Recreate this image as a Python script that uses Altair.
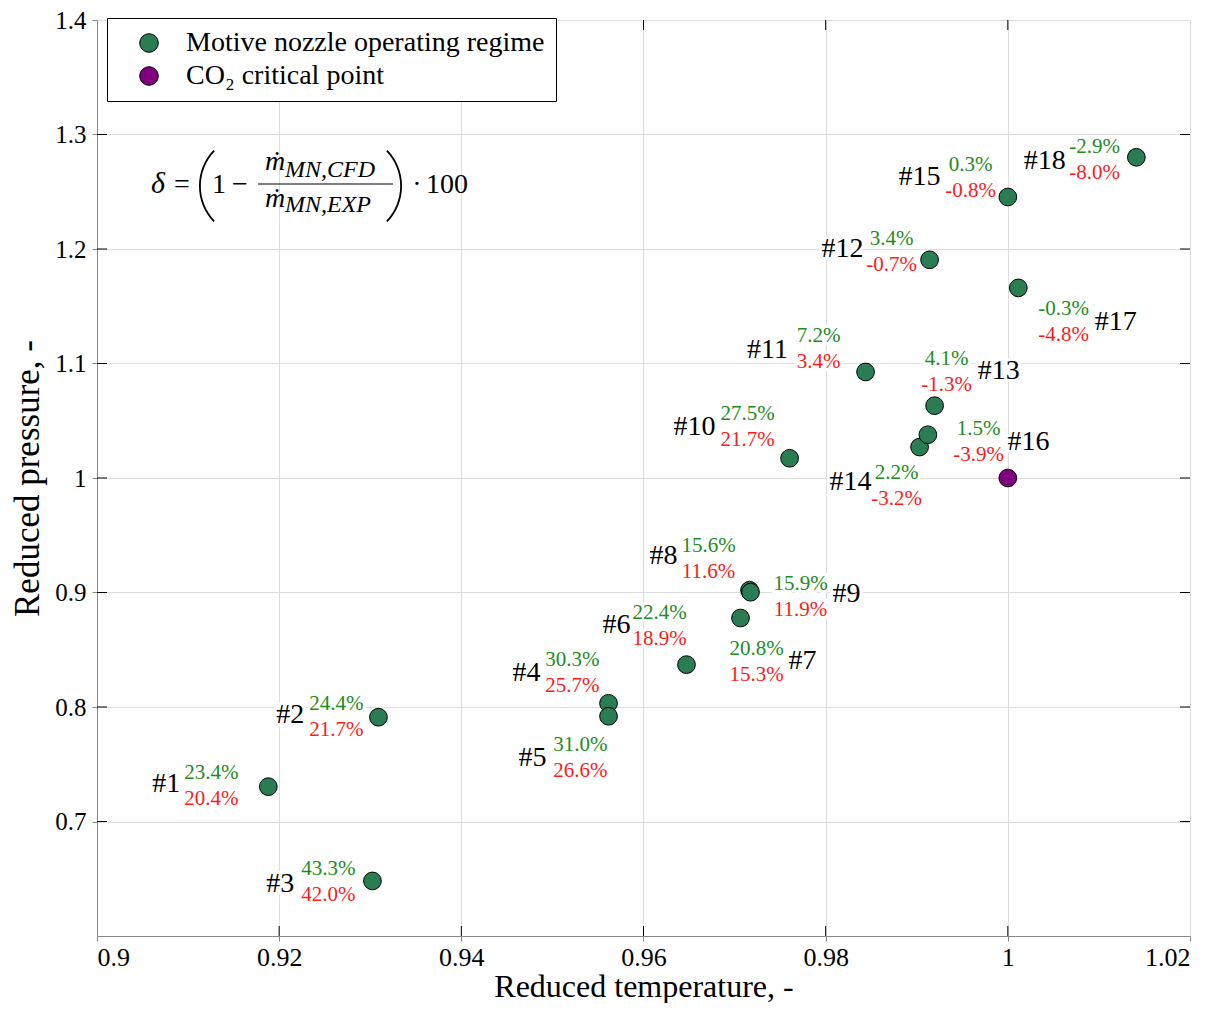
import altair as alt
import pandas as pd

# ---------------- data ----------------
cases = [f"#{i}" for i in range(1, 19)]
red_temperature = [0.91881, 0.93090, 0.93024, 0.95616, 0.95616, 0.96472, 0.97065, 0.97164, 0.97175,
                   0.97604, 0.98438, 0.99141, 0.99196, 0.99031, 1.00000, 0.99122, 1.00115, 1.01411]
red_pressure = [0.73042, 0.79107, 0.64809, 0.80321, 0.79194, 0.83700, 0.87773, 0.90199, 0.90026,
                1.01724, 1.09263, 1.19055, 1.06317, 1.02703, 1.24541, 1.03778, 1.16603, 1.28007]
delta_green = [23.4, 24.4, 43.3, 30.3, 31.0, 22.4, 20.8, 15.6, 15.9,
               27.5, 7.2, 3.4, 4.1, 2.2, 0.3, 1.5, -0.3, -2.9]
delta_red = [20.4, 21.7, 42.0, 25.7, 26.6, 18.9, 15.3, 11.6, 11.9,
             21.7, 3.4, -0.7, -1.3, -3.2, -0.8, -3.9, -4.8, -8.0]

# annotation anchors (data units)
tag_x = [0.90761, 0.92123, 0.92013, 0.94715, 0.94781, 0.95703, 0.97746, 0.96220, 0.98230,
         0.96560, 0.97362, 0.98186, 0.99899, 0.98274, 0.99031, 1.00228, 1.01184, 1.00404]
tag_y = [0.73302, 0.79281, 0.64549, 0.83007, 0.75555, 0.87166, 0.84047, 0.93146, 0.89853,
         1.04497, 1.11170, 1.20009, 1.09350, 0.99645, 1.26248, 1.03111, 1.13596, 1.27721]
pct_x = [0.91255, 0.92628, 0.92540, 0.95220, 0.95308, 0.96176, 0.97241, 0.96714, 0.97724,
         0.97142, 0.97922, 0.98724, 0.99328, 0.98779, 0.99591, 0.99679, 1.00613, 1.00953]
pct_y = [0.73085, 0.79107, 0.64679, 0.82964, 0.75511, 0.87080, 0.83960, 0.92886, 0.89593,
         1.04411, 1.11300, 1.19705, 1.09263, 0.99341, 1.26205, 1.03154, 1.13596, 1.27764]

crit_temperature = [1.0]
crit_pressure = [1.0]

series_names = ["Motive nozzle operating regime", "CO\u2082 critical point"]
series_colors = ["#2A7D52", "#800080"]
x_ticks = [0.9, 0.92, 0.94, 0.96, 0.98, 1.0, 1.02]
y_ticks = [0.7, 0.8, 0.9, 1.0, 1.1, 1.2, 1.3, 1.4]
x_inner_ticks = [0.92, 0.94, 0.96, 0.98, 1.0]
y_inner_ticks = [0.7, 0.8, 0.9, 1.0, 1.1, 1.2, 1.3]

# ---------------- tables ----------------
df = pd.DataFrame({
    "t": red_temperature, "p": red_pressure, "case": cases,
    "g": [f"{v:.1f}%" for v in delta_green],
    "r": [f"{v:.1f}%" for v in delta_red],
    "tx": tag_x, "ty": tag_y, "px": pct_x, "py": pct_y,
})
pts = pd.concat([
    pd.DataFrame({"t": red_temperature, "p": red_pressure, "series": series_names[0]}),
    pd.DataFrame({"t": crit_temperature, "p": crit_pressure, "series": series_names[1]}),
], ignore_index=True)
xt = pd.DataFrame({"v": x_inner_ticks})
yt = pd.DataFrame({"v": y_inner_ticks})

W, H = 1093, 916
FONT = "Liberation Serif"
xs = alt.Scale(domain=[0.9, 1.02], nice=False, zero=False)
ys = alt.Scale(domain=[0.6, 1.4], nice=False, zero=False)

X = alt.X("t:Q", scale=xs, title="Reduced temperature, -",
          axis=alt.Axis(values=x_ticks, format=".2~f", labelFont=FONT, labelFontSize=26,
                        labelPadding=3, titleFont=FONT, titleFontSize=32, titlePadding=1,
                        titleFontWeight="normal"))
Y = alt.Y("p:Q", scale=ys, title="Reduced pressure, -",
          axis=alt.Axis(values=y_ticks, format=".1~f", labelFont=FONT, labelFontSize=25,
                        labelPadding=6, titleFont=FONT, titleFontSize=35, titlePadding=9,
                        titleFontWeight="normal"))

# inward tick marks on all four sides
ticks = [
    alt.Chart(xt).mark_rule(color="black", strokeWidth=1).encode(
        x=alt.X("v:Q", scale=xs), y=alt.value(H), y2=alt.value(H - 10)),
    alt.Chart(xt).mark_rule(color="black", strokeWidth=1).encode(
        x=alt.X("v:Q", scale=xs), y=alt.value(0), y2=alt.value(10)),
    alt.Chart(yt).mark_rule(color="black", strokeWidth=1).encode(
        y=alt.Y("v:Q", scale=ys), x=alt.value(0), x2=alt.value(10)),
    alt.Chart(yt).mark_rule(color="black", strokeWidth=1).encode(
        y=alt.Y("v:Q", scale=ys), x=alt.value(W), x2=alt.value(W - 10)),
]

points = alt.Chart(pts).mark_circle(size=314, stroke="black", strokeWidth=1, opacity=1).encode(
    x=X, y=Y,
    color=alt.Color("series:N", scale=alt.Scale(domain=series_names, range=series_colors),
                    sort=series_names,
                    legend=alt.Legend(title=None, orient="none", legendX=10, legendY=-2,
                                      strokeColor="black", fillColor="white", padding=11,
                                      labelFont=FONT, labelFontSize=28, labelColor="black",
                                      symbolType="circle", symbolSize=346,
                                      symbolStrokeColor="black", symbolStrokeWidth=1,
                                      symbolOffset=17, labelOffset=23, rowPadding=5,
                                      labelLimit=600)),
)


def label_layer(field, xf, yf, size, color, dy, halo):
    kw = dict(font=FONT, fontSize=size, align="center", baseline="middle", dy=dy)
    if halo:
        kw.update(color="white", stroke="white", strokeWidth=6)
    else:
        kw.update(color=color)
    return alt.Chart(df).mark_text(**kw).encode(
        x=alt.X(f"{xf}:Q", scale=xs), y=alt.Y(f"{yf}:Q", scale=ys), text=f"{field}:N")


labels = []
for halo in (True, False):
    labels += [
        label_layer("case", "tx", "ty", 28, "black", 0, halo),
        label_layer("g", "px", "py", 21, "#1E8C1E", -13, halo),
        label_layer("r", "px", "py", 21, "#FF1A1A", 13, halo),
    ]

# ---------------- formula annotation ----------------
one = pd.DataFrame({"a": [0]})


def txt(s, x, y, size, italic=False, align="center"):
    return alt.Chart(one).mark_text(text=s, font=FONT, fontSize=size, color="black",
                                    align=align, baseline="alphabetic",
                                    fontStyle="italic" if italic else "normal").encode(
        x=alt.value(x), y=alt.value(y))


def paren(cx, cy, t1, t2):
    return alt.Chart(one).mark_arc(radius=52, radius2=50.2, theta=t1, theta2=t2,
                                   color="black").encode(x=alt.value(cx), y=alt.value(cy))


formula = [
    txt("\u03b4", 61, 173, 30, italic=True),
    txt("=", 85, 173, 28),
    paren(154, 166, 3.948, 5.477),
    txt("1", 122, 173, 28),
    txt("\u2212", 143, 173, 28),
    txt("\u1e41", 168, 150, 28, italic=True, align="left"),
    txt("MN,CFD", 188, 157, 24, italic=True, align="left"),
    txt("\u1e41", 168, 187, 28, italic=True, align="left"),
    txt("MN,EXP", 188, 192, 24, italic=True, align="left"),
    paren(253, 166, 0.806, 2.335),
    txt("\u00b7", 320, 173, 28),
    txt("100", 350, 173, 28),
    alt.Chart(one).mark_rule(color="black", strokeWidth=1.2).encode(
        x=alt.value(161), x2=alt.value(296), y=alt.value(164)),
]

chart = alt.layer(points, *ticks, *labels, *formula).properties(
    width=W, height=H,
    autosize=alt.AutoSizeParams(type="none"),
    padding={"left": 89, "top": 12, "right": 20, "bottom": 67},
).configure_view(stroke="black", strokeWidth=1).configure_axis(
    grid=True, gridColor="#d4d4d4", gridDash=[4, 3], gridWidth=1,
    ticks=False, domainColor="black", domainWidth=1, labelColor="black", titleColor="black",
).configure(background="white")

chart.save("out.html", embed_options={"renderer": "svg", "actions": False})
